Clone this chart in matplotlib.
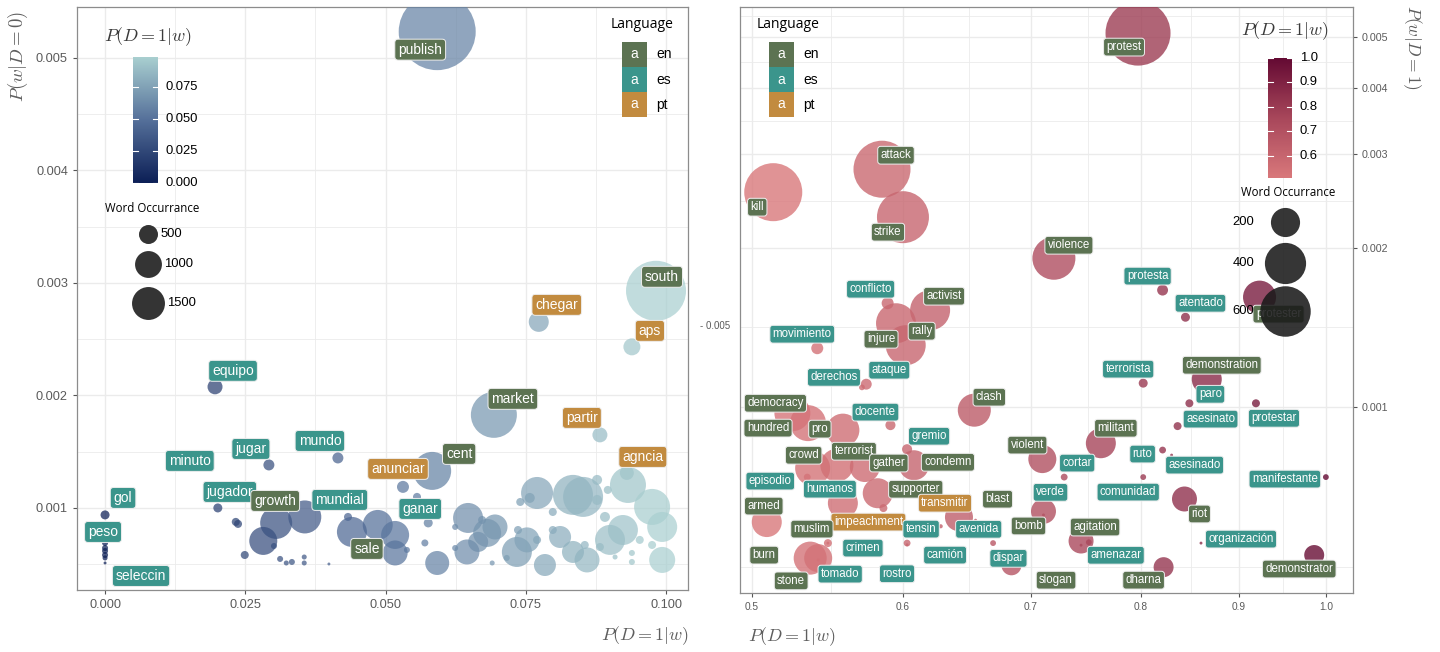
import numpy as np
import matplotlib
matplotlib.use("Agg")
import matplotlib.pyplot as plt
from matplotlib.colors import LinearSegmentedColormap, Normalize

plt.rcParams['font.family'] = ['Liberation Sans', 'DejaVu Sans']
plt.rcParams['mathtext.fontset'] = 'cm'

# ---------------- data : left panel ----------------
left_words = ['publish', 'south', 'chegar', 'aps', 'equipo', 'market', 'partir', 'mundo', 'jugar',
              'minuto', 'cent', 'anunciar', 'agncia', 'gol', 'jugador', 'growth', 'mundial', 'ganar',
              'sale', 'peso', 'seleccin']
left_lang = ['en', 'en', 'pt', 'pt', 'es', 'en', 'pt', 'es', 'es',
             'es', 'en', 'pt', 'pt', 'es', 'es', 'en', 'es', 'es',
             'en', 'es', 'es']
left_x = [0.0592, 0.0982, 0.0773, 0.0939, 0.0196, 0.0693, 0.0882, 0.0415, 0.0292,
          0.0233, 0.0583, 0.0531, 0.0930, 0.0, 0.0201, 0.0305, 0.0356, 0.0576,
          0.0440, 0.0, 0.0]
left_y = [0.005231, 0.002929, 0.002653, 0.002431, 0.002076, 0.001827, 0.001649, 0.001444, 0.001382,
          0.000876, 0.001329, 0.001187, 0.001311, 0.000938, 0.001000, 0.000867, 0.000920, 0.000867,
          0.000787, 0.000689, 0.000511]
left_n = [8206, 4983, 554, 400, 311, 2929, 311, 167, 167,
          89, 1999, 199, 271, 112, 112, 1417, 1507, 112,
          1246, 50, 12]

left_other_x = [0.0, 0.0, 0.0, 0.0, 0.0237, 0.0249, 0.0282, 0.0301, 0.0312, 0.0323, 0.0333, 0.0355,
                0.0355, 0.0399, 0.0433, 0.0486, 0.0517, 0.0517, 0.0538, 0.0556, 0.0570, 0.0592,
                0.0624, 0.0624, 0.0647, 0.0665, 0.0645, 0.0681, 0.0695, 0.0672, 0.0690, 0.0716,
                0.0734, 0.0736, 0.0752, 0.0770, 0.0784, 0.0811, 0.0798, 0.0770, 0.0740, 0.0757,
                0.0798, 0.0834, 0.0852, 0.0877, 0.0896, 0.0932, 0.0975, 0.0993, 0.0923, 0.0900,
                0.0891, 0.0859, 0.0834, 0.0855, 0.0882, 0.0909, 0.0939, 0.0939, 0.0993, 0.0975,
                0.0953, 0.0877]
left_other_y = [0.000644, 0.000618, 0.000582, 0.000556, 0.000858, 0.000582, 0.000707, 0.000662,
                0.000547, 0.000511, 0.000520, 0.000564, 0.000511, 0.000502, 0.000920, 0.000849,
                0.000760, 0.000600, 0.000627, 0.001098, 0.000689, 0.000511, 0.000831, 0.000644,
                0.000911, 0.000698, 0.000609, 0.000778, 0.000831, 0.000893, 0.000511, 0.000556,
                0.000609, 0.000804, 0.000716, 0.000716, 0.000493, 0.000742, 0.000804, 0.001133,
                0.001053, 0.001089, 0.000964, 0.001116, 0.001098, 0.001249, 0.001160, 0.001204,
                0.001009, 0.000831, 0.000804, 0.000716, 0.000920, 0.000538, 0.000609, 0.000671,
                0.000653, 0.000564, 0.000600, 0.000520, 0.000538, 0.000671, 0.000716, 0.001071]
left_other_n = [50, 50, 50, 35, 89, 89, 1085, 50, 50, 35, 50, 35,
                35, 12, 89, 1245, 1085, 865, 50, 89, 68, 797,
                50, 50, 1245, 554, 865, 1085, 865, 89, 35, 50,
                1245, 89, 865, 89, 670, 670, 89, 1417, 89, 138,
                89, 2214, 2214, 138, 89, 1794, 1794, 1245, 1245, 1245,
                138, 865, 670, 89, 89, 35, 50, 50, 936, 89,
                89, 138]

left_xticks = [0.000, 0.025, 0.050, 0.075, 0.100]
left_xticklabels = ['0.000', '0.025', '0.050', '0.075', '0.100']
left_yticks = [0.001, 0.002, 0.003, 0.004, 0.005]
left_yticklabels = ['0.001', '0.002', '0.003', '0.004', '0.005']
left_cbar_ticks = [0.000, 0.025, 0.050, 0.075]
left_cbar_labels = ['0.000', '0.025', '0.050', '0.075']
left_size_breaks = [500, 1000, 1500]

# ---------------- data : right panel ----------------
right_words = ['protest', 'kill', 'attack', 'strike', 'violence', 'protesta', 'atentado', 'protester',
               'conflicto', 'activist', 'injure', 'rally', 'movimiento', 'ataque', 'derechos',
               'terrorista', 'demonstration', 'paro', 'protestar', 'asesinato', 'clash', 'democracy',
               'hundred', 'pro', 'docente', 'gremio', 'militant', 'ruto', 'asesinado', 'comunidad',
               'cortar', 'manifestante', 'violent', 'crowd', 'terrorist', 'gather', 'condemn',
               'episodio', 'humanos', 'supporter', 'armed', 'transmitir', 'blast', 'verde',
               'impeachment', 'muslim', 'tensin', 'avenida', 'bomb', 'crimen', 'camión', 'dispar',
               'burn', 'tomado', 'rostro', 'stone', 'slogan', 'agitation', 'amenazar', 'riot',
               'organización', 'dharna', 'demonstrator']
right_lang = ['en', 'en', 'en', 'en', 'en', 'es', 'es', 'en',
              'es', 'en', 'en', 'en', 'es', 'es', 'es',
              'es', 'en', 'es', 'es', 'es', 'en', 'en',
              'en', 'en', 'es', 'es', 'en', 'es', 'es', 'es',
              'es', 'es', 'en', 'en', 'en', 'en', 'en',
              'es', 'es', 'en', 'en', 'pt', 'en', 'es',
              'pt', 'en', 'es', 'es', 'en', 'es', 'es', 'es',
              'en', 'es', 'es', 'en', 'en', 'en', 'es', 'en',
              'es', 'en', 'en']
right_x = [0.797, 0.513, 0.585, 0.600, 0.720, 0.821, 0.844, 0.923,
           0.589, 0.620, 0.595, 0.602, 0.541, 0.574, 0.571,
           0.802, 0.866, 0.848, 0.919, 0.836, 0.654, 0.525,
           0.535, 0.558, 0.591, 0.603, 0.762, 0.821, 0.830, 0.802,
           0.729, 1.000, 0.710, 0.538, 0.554, 0.573, 0.608,
           0.5345, 0.558, 0.582, 0.509, 0.642, 0.655, 0.711,
           0.586, 0.548, 0.603, 0.628, 0.711, 0.548, 0.669, 0.684,
           0.5364, 0.5416, 0.603, 0.5416, 0.744, 0.744, 0.751, 0.843,
           0.860, 0.822, 0.986]
right_y = [0.00508, 0.002545, 0.002812, 0.002283, 0.00191, 0.001663, 0.001478, 0.001613,
           0.001571, 0.001524, 0.00144, 0.001309, 0.001292, 0.001105, 0.00109,
           0.00111, 0.001129, 0.001017, 0.001017, 0.000921, 0.000987, 0.000974,
           0.000933, 0.000905, 0.000925, 0.000833, 0.000855, 0.00083, 0.000812, 0.000738,
           0.000738, 0.000738, 0.000798, 0.000767, 0.000777, 0.000771, 0.000777,
           0.000738, 0.000659, 0.000688, 0.000607, 0.00062, 0.000612, 0.000636,
           0.000645, 0.000554, 0.000554, 0.000596, 0.000626, 0.000554, 0.000554, 0.000503,
           0.000519, 0.000519, 0.00055, 0.000515, 0.000549, 0.000559, 0.000556, 0.000671,
           0.000554, 0.000499, 0.000526]
right_n = [996, 793, 766, 637, 436, 28, 19, 257,
           34, 377, 377, 377, 34, 28, 8,
           19, 212, 15, 15, 15, 257, 305,
           305, 257, 24, 24, 212, 11, 2, 8,
           11, 8, 185, 289, 257, 212, 212,
           11, 212, 212, 212, 185, 2, 147,
           15, 15, 11, 4, 2, 2, 8, 94,
           257, 185, 2, 2, 2, 147, 8, 147,
           2, 94, 94]

right_xticks = [0.5, 0.6, 0.7, 0.8, 0.9, 1.0]
right_xticklabels = ['0.5', '0.6', '0.7', '0.8', '0.9', '1.0']
right_yticks = [0.001, 0.002, 0.003, 0.004, 0.005]
right_yticklabels = ['0.001', '0.002', '0.003', '0.004', '0.005']
right_cbar_ticks = [0.6, 0.7, 0.8, 0.9, 1.0]
right_cbar_labels = ['0.6', '0.7', '0.8', '0.9', '1.0']
right_size_breaks = [200, 400, 600]

languages = ['en', 'es', 'pt']

# ---------------- layout / style (pixel offsets of repelled labels) ----------------
left_offsets = [(-17, -18), (6, 14), (18, 17), (18, 16), (18, 16), (19, 16), (-18, 17), (-18, 17),
                (-18, 16), (-46, 61), (27, 17), (-5, 18), (16, 16), (18, 17), (12, 16), (-1, 22),
                (35, 17), (-8, 14), (15, -17), (-2, 11), (36, -13)]
right_offsets = [(-14, -14), (-16, -15), (14, 14), (-15, -15), (15, 13), (-15, 14), (15, 14), (19, -17),
                 (-17, 14), (14, 14), (-15, -16), (16, 14), (-15, 14), (23, 14), (-28, 10),
                 (-15, 14), (15, 14), (21, 9), (18, -15), (33, 7), (15, 13), (-17, 10),
                 (-40, -5), (-23, 1), (-15, 13), (22, 13), (15, 15), (-20, -4), (23, -10), (-15, -15),
                 (13, 14), (-41, -2), (-15, 14), (-9, 13), (17, 14), (24, 4), (34, 3),
                 (-37, -4), (-13, 14), (38, 4), (-3, 16), (-14, 14), (22, 21), (7, 19),
                 (-15, -14), (-16, 14), (14, 14), (38, -3), (-15, -11), (35, -5), (-48, -12), (-3, 7),
                 (-46, 3), (22, -16), (-10, -29), (-27, -21), (-25, -35), (14, 14), (27, -13), (15, -15),
                 (40, 4), (-20, -13), (-15, -14)]

lang_col = {'en': '#5c7352', 'es': '#3b958c', 'pt': '#c28b3f'}
cmap_left = LinearSegmentedColormap.from_list('lft', ['#0c1f56', '#55709a', '#a9cfd0'])
cmap_right = LinearSegmentedColormap.from_list('rgt', ['#d9787b', '#a8475b', '#640a33'])
norm_left = Normalize(0.0, 0.0985)
norm_right = Normalize(0.51, 1.0)
kL = 0.3745   # points^2 per occurrence (left)
kR = 2.2      # points^2 per occurrence (right)
PX = 0.72     # points per pixel
GRID = '#ebebeb'

fig = plt.figure(figsize=(14.4, 6.52), dpi=100)
axL = fig.add_axes([77 / 1440, 1 - 590 / 652, 611 / 1440, 583 / 652])
axR = fig.add_axes([740 / 1440, 1 - 593 / 652, 613 / 1440, 586 / 652])


def style_axes(ax):
    ax.set_facecolor('white')
    for s in ax.spines.values():
        s.set_color('#8c8c8c')
        s.set_linewidth(0.9)
    ax.grid(True, which='major', color=GRID, lw=1.0, zorder=0)
    ax.grid(True, which='minor', color=GRID, lw=0.6, zorder=0)
    ax.set_axisbelow(True)
    ax.tick_params(which='minor', length=0)
    ax.tick_params(which='major', length=3, color='#555555', width=0.8)


def draw_labels(ax, words, langs, xs, ys, offs, fs):
    for w, lg, x, y, (dx, dy) in zip(words, langs, xs, ys, offs):
        ax.annotate(w, (x, y), xytext=(dx * PX, dy * PX), textcoords='offset points',
                    ha='center', va='center', fontsize=fs, color='white', zorder=6,
                    annotation_clip=False,
                    bbox=dict(boxstyle='round,pad=0.25,rounding_size=0.25',
                              fc=lang_col[lg], ec='#eeeeee', lw=0.7))


# ---------------- left panel ----------------
style_axes(axL)
axL.scatter(left_other_x, left_other_y, s=np.array(left_other_n) * kL,
            c=cmap_left(norm_left(np.array(left_other_x))), alpha=0.72, lw=0, zorder=3)
axL.scatter(left_x, left_y, s=np.array(left_n) * kL,
            c=cmap_left(norm_left(np.array(left_x))), alpha=0.72, lw=0, zorder=3)
draw_labels(axL, left_words, left_lang, left_x, left_y, left_offsets, 10)
axL.set_xlim(-0.005, 0.1039)
axL.set_ylim(0.000271, 0.00545)
axL.set_xticks(left_xticks)
axL.set_xticklabels(left_xticklabels)
axL.set_yticks(left_yticks)
axL.set_yticklabels(left_yticklabels)
axL.set_xticks([0.0125, 0.0375, 0.0625, 0.0875], minor=True)
axL.set_yticks([0.0005, 0.0015, 0.0025, 0.0035, 0.0045], minor=True)
axL.tick_params(labelsize=9.2, labelcolor='#5a5a5a')

# ---------------- right panel ----------------
style_axes(axR)
axR.set_xscale('log')
axR.set_yscale('log')
axR.scatter(right_x, right_y, s=np.array(right_n) * kR,
            c=cmap_right(norm_right(np.array(right_x))), alpha=0.8, lw=0, zorder=3)
draw_labels(axR, right_words, right_lang, right_x, right_y, right_offsets, 8.3)
axR.set_xlim(0.4928, 1.0333)
axR.set_ylim(0.000446, 0.00569)
axR.yaxis.tick_right()
axR.xaxis.set_major_locator(matplotlib.ticker.FixedLocator(right_xticks))
axR.xaxis.set_minor_locator(matplotlib.ticker.FixedLocator([0.55, 0.65, 0.75, 0.85, 0.95]))
axR.xaxis.set_major_formatter(matplotlib.ticker.FixedFormatter(right_xticklabels))
axR.xaxis.set_minor_formatter(matplotlib.ticker.NullFormatter())
axR.yaxis.set_major_locator(matplotlib.ticker.FixedLocator(right_yticks))
axR.yaxis.set_minor_locator(matplotlib.ticker.FixedLocator(
    [0.0005, 0.001414, 0.002449, 0.003464, 0.004472, 0.005477]))
axR.yaxis.set_major_formatter(matplotlib.ticker.FixedFormatter(right_yticklabels))
axR.yaxis.set_minor_formatter(matplotlib.ticker.NullFormatter())
axR.tick_params(axis='x', labelsize=7.3, labelcolor='#5a5a5a')
axR.tick_params(axis='y', labelsize=7.7, labelcolor='#5a5a5a')
axR.tick_params(which='minor', length=0)

# ---------------- overlay in pixel coordinates for legends and titles ----------------
ov = fig.add_axes([0, 0, 1, 1], zorder=10)
ov.patch.set_alpha(0)
ov.axis('off')

AX_T = '#5e5e5e'
ov.text(18, 56, r'$P(w|D=0)$', rotation=90, ha='center', va='center', fontsize=13.5, color=AX_T)
ov.text(645, 636, r'$P(D=1|w)$', ha='center', va='center', fontsize=13, color=AX_T)
ov.text(792, 637, r'$P(D=1|w)$', ha='center', va='center', fontsize=13, color=AX_T)
ov.text(1412, 47, r'$P(w|D=1)$', rotation=270, ha='center', va='center', fontsize=12.5, color=AX_T)
ov.text(715, 326, '- 0.005', ha='center', va='center', fontsize=7, color='#5a5a5a')


def colorbar(cmap, x0, x1, ytop, ybot, vmin, vmax, ticks, labels, title, tx, ty, label_x):
    grad = np.linspace(0, 1, 256).reshape(-1, 1)
    ov.imshow(grad, extent=[x0, x1, ybot, ytop], origin='lower', cmap=cmap, aspect='auto', zorder=11)
    for v, lab in zip(ticks, labels):
        py = ybot - (v - vmin) / (vmax - vmin) * (ybot - ytop)
        ov.plot([x0, x0 + 5], [py, py], color='white', lw=0.8, zorder=12)
        ov.plot([x1 - 5, x1], [py, py], color='white', lw=0.8, zorder=12)
        ov.text(label_x, py, lab, ha='left', va='center', fontsize=9.4, color='black', zorder=12)
    ov.text(tx, ty, title, ha='center', va='center', fontsize=13, color='#3a3a3a', zorder=12)


colorbar(cmap_left, 133, 158, 57, 183, 0.0, 0.0985, left_cbar_ticks, left_cbar_labels,
         r'$P(D=1|w)$', 148, 37, 166)
colorbar(cmap_right, 1268, 1292, 58, 178, 0.51, 1.0, right_cbar_ticks, right_cbar_labels,
         r'$P(D=1|w)$', 1285, 31, 1300)

# size legends
ov.text(152, 209, 'Word Occurrance', ha='center', va='center', fontsize=8.3,
        family=['Open Sans', 'DejaVu Sans'], color='black', zorder=12)
for n, py in zip(left_size_breaks, [234, 264, 303]):
    ov.scatter([148], [py], s=n * kL, color='#222222', alpha=0.92, lw=0, zorder=12)
    r = np.sqrt(n * kL) / PX / 2
    ov.text(148 + r + 3, py, str(n), ha='left', va='center', fontsize=9.4, color='black', zorder=12)

ov.text(1288, 193, 'Word Occurrance', ha='center', va='center', fontsize=8.3,
        family=['Open Sans', 'DejaVu Sans'], color='black', zorder=12)
for n, py in zip(right_size_breaks, [222, 263, 311]):
    ov.scatter([1285], [py], s=n * kR, color='#1a1a1a', alpha=0.88, lw=0, zorder=12)
    ov.text(1254, py, str(n), ha='right', va='center', fontsize=9.4, color='black', zorder=13)

# language legends
def lang_legend(tx, bx, lx):
    ov.text(tx, 25, 'Language', ha='center', va='center', fontsize=10,
            family=['Open Sans', 'DejaVu Sans'], color='black', zorder=12)
    for lg, (y0, y1) in zip(languages, [(42, 67), (67, 92), (92, 117)]):
        ov.add_patch(matplotlib.patches.Rectangle((bx, y0), 25, y1 - y0, fc=lang_col[lg],
                                                  ec='none', zorder=12))
        ov.text(bx + 12.5, (y0 + y1) / 2, 'a', ha='center', va='center', fontsize=10,
                color='white', zorder=13)
        ov.text(lx, (y0 + y1) / 2, lg, ha='left', va='center', fontsize=10, color='black', zorder=13)


lang_legend(642, 622, 656)
lang_legend(788, 769, 803)

ov.set_xlim(0, 1440)
ov.set_ylim(652, 0)

fig.savefig('out.png', dpi=100, facecolor='white')
